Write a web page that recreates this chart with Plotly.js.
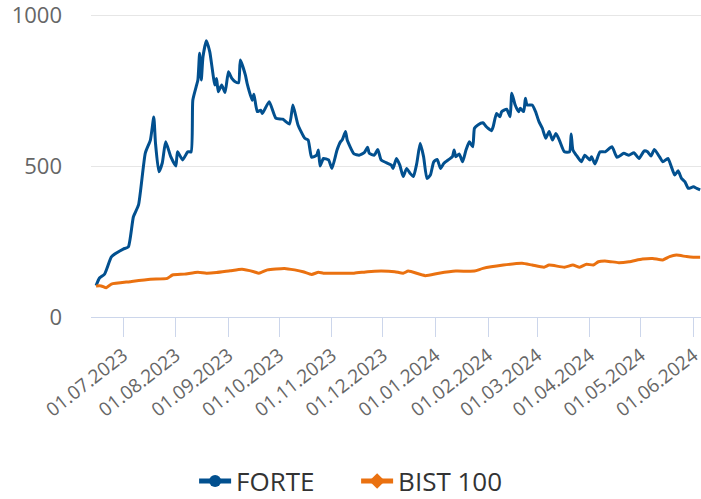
<!DOCTYPE html>
<html>
<head>
<meta charset="utf-8">
<script src="https://cdn.plot.ly/plotly-3.0.1.min.js"></script>
<style>html,body{margin:0;padding:0;background:#fff;}#chart{width:701px;height:499px;}</style>
</head>
<body>
<div id="chart"></div>
<script>
const forteDates = ['2023-06-15','2023-06-17','2023-06-20','2023-06-24','2023-06-27','2023-07-01','2023-07-04','2023-07-07','2023-07-10','2023-07-14',
'2023-07-17','2023-07-19','2023-07-20','2023-07-22','2023-07-24','2023-07-26','2023-07-29','2023-08-01','2023-08-02','2023-08-05',
'2023-08-08','2023-08-10','2023-08-11','2023-08-13','2023-08-14','2023-08-15','2023-08-16','2023-08-17','2023-08-19','2023-08-21',
'2023-08-24','2023-08-25','2023-08-26','2023-08-28','2023-08-30','2023-09-01','2023-09-03','2023-09-05','2023-09-07','2023-09-08',
'2023-09-11','2023-09-12','2023-09-15','2023-09-16','2023-09-18','2023-09-20','2023-09-21','2023-09-25','2023-09-29','2023-10-03',
'2023-10-07','2023-10-09','2023-10-12','2023-10-16','2023-10-18','2023-10-20','2023-10-23','2023-10-24','2023-10-25','2023-10-27',
'2023-10-30','2023-11-01','2023-11-04','2023-11-06','2023-11-07','2023-11-09','2023-11-10','2023-11-14','2023-11-17','2023-11-20',
'2023-11-22','2023-11-23','2023-11-26','2023-11-28','2023-11-30','2023-12-03','2023-12-06','2023-12-07','2023-12-09','2023-12-11',
'2023-12-13','2023-12-15','2023-12-17','2023-12-19','2023-12-21','2023-12-23','2023-12-25','2023-12-27','2023-12-29','2023-12-31',
'2024-01-02','2024-01-04','2024-01-06','2024-01-09','2024-01-11','2024-01-12','2024-01-13','2024-01-15','2024-01-17','2024-01-19',
'2024-01-21','2024-01-23','2024-01-24','2024-01-26','2024-01-29','2024-01-31','2024-02-03','2024-02-04','2024-02-06','2024-02-08',
'2024-02-09','2024-02-12','2024-02-14','2024-02-15','2024-02-17','2024-02-19','2024-02-20','2024-02-22','2024-02-23','2024-02-24',
'2024-02-27','2024-02-29','2024-03-02','2024-03-04','2024-03-06','2024-03-08','2024-03-10','2024-03-12','2024-03-14','2024-03-17',
'2024-03-20','2024-03-21','2024-03-22','2024-03-24','2024-03-27','2024-03-29','2024-04-01','2024-04-02','2024-04-04','2024-04-07',
'2024-04-10','2024-04-14','2024-04-17','2024-04-21','2024-04-24','2024-04-27','2024-04-30','2024-05-03','2024-05-05','2024-05-07',
'2024-05-09','2024-05-12','2024-05-14','2024-05-17','2024-05-19','2024-05-21','2024-05-23','2024-05-25','2024-05-27','2024-05-29',
'2024-06-01','2024-06-03','2024-06-05'];
const forteValues = [104,129,142,199,212,225,232,332,371,543,
586,662,576,481,510,580,531,500,547,520,
547,547,718,763,785,873,785,862,915,878,
768,790,746,768,743,812,790,779,776,851,
801,774,718,738,680,685,674,713,658,655,
639,702,636,592,586,529,536,553,500,525,
520,492,553,580,586,614,586,540,536,544,
562,542,536,555,520,511,503,492,525,503,
465,492,476,465,509,575,531,459,470,514,
522,492,509,522,531,553,531,540,514,553,
580,564,625,636,643,630,617,630,674,663,
680,688,663,741,702,680,691,680,724,702,
702,680,647,625,592,614,586,608,586,547,
547,606,553,536,514,536,520,531,507,547,
547,564,529,542,536,544,525,550,547,533,
555,531,514,525,498,470,484,459,448,426,
431,426,421];

const bistDates = ['2023-06-15','2023-06-18','2023-06-21','2023-06-24','2023-07-05','2023-07-17','2023-07-27','2023-07-30','2023-08-06','2023-08-14',
'2023-08-19','2023-08-25','2023-09-02','2023-09-09','2023-09-16','2023-09-19','2023-09-24','2023-10-04','2023-10-10','2023-10-15',
'2023-10-20','2023-10-24','2023-10-27','2023-11-04','2023-11-14','2023-11-22','2023-11-30','2023-12-08','2023-12-13','2023-12-16',
'2023-12-26','2024-01-03','2024-01-13','2024-01-24','2024-01-29','2024-02-10','2024-02-21','2024-02-27','2024-03-05','2024-03-08',
'2024-03-17','2024-03-22','2024-03-26','2024-03-30','2024-04-03','2024-04-06','2024-04-11','2024-04-18','2024-04-24','2024-05-02',
'2024-05-08','2024-05-14','2024-05-18','2024-05-22','2024-05-28','2024-06-01','2024-06-05'];
const bistValues = [103,103,97,109,117,125,128,139,142,148,
145,147,153,158,150,145,156,161,156,150,
141,148,145,145,145,150,152,150,145,152,
137,145,152,152,161,172,178,172,165,172,
165,172,165,175,172,183,185,180,183,192,
194,189,200,205,200,198,198];

const tickDates = ['2023-07-01','2023-08-01','2023-09-01','2023-10-01','2023-11-01','2023-12-01','2024-01-01','2024-02-01','2024-03-01','2024-04-01','2024-05-01','2024-06-01'];
const tickLabels = ['01.07.2023','01.08.2023','01.09.2023','01.10.2023','01.11.2023','01.12.2023','01.01.2024','01.02.2024','01.03.2024','01.04.2024','01.05.2024','01.06.2024'];
const yTicks = [0,500,1000];
const seriesNames = ['FORTE','BIST 100'];

const traces = [
  {x: forteDates, y: forteValues, name: seriesNames[0], type: 'scatter', mode: 'lines+markers',
   line: {color: '#02508f', width: 3, shape: 'spline', smoothing: 0.5},
   marker: {symbol: 'circle', size: 0.01, color: '#02508f', line: {width: 0}}},
  {x: bistDates, y: bistValues, name: seriesNames[1], type: 'scatter', mode: 'lines+markers',
   line: {color: '#ea7110', width: 3, shape: 'spline', smoothing: 0.5},
   marker: {symbol: 'diamond', size: 0.01, color: '#ea7110', line: {width: 0}}}
];

const layout = {
  width: 701, height: 499,
  margin: {l: 91, r: 0, t: 12, b: 182},
  paper_bgcolor: '#ffffff', plot_bgcolor: '#ffffff',
  font: {family: '"Open Sans", sans-serif', color: '#666666'},
  showlegend: true,
  legend: {orientation: 'h', xref: 'container', yref: 'container', x: 0.508, xanchor: 'center', y: 0.036, yanchor: 'middle',
    font: {size: 26, color: '#333333', family: '"Open Sans", sans-serif'}, itemsizing: 'constant', itemwidth: 32,
    entrywidth: 115, entrywidthmode: 'pixels'},
  xaxis: {type: 'date', range: ['2023-06-12', '2024-06-05 12:00'], tickmode: 'array', tickvals: tickDates, ticktext: tickLabels,
    tickangle: -38, tickfont: {size: 19, color: '#666666'}, ticks: 'outside', ticklen: 19, tickcolor: '#ccd6eb', tickwidth: 1,
    ticklabeloverflow: 'allow',
    showline: true, linecolor: '#ccd6eb', linewidth: 1, showgrid: false, zeroline: false, fixedrange: true},
  yaxis: {range: [0, 1010], tickmode: 'array', tickvals: yTicks, tickfont: {size: 22, color: '#666666'},
    ticklabeloverflow: 'allow',
    showgrid: true, gridcolor: '#e6e6e6', gridwidth: 1, zeroline: false, showline: false, ticks: '', ticklabelstandoff: 28, fixedrange: true}
};

Plotly.newPlot('chart', traces, layout, {staticPlot: true, displayModeBar: false});
</script>
</body>
</html>
